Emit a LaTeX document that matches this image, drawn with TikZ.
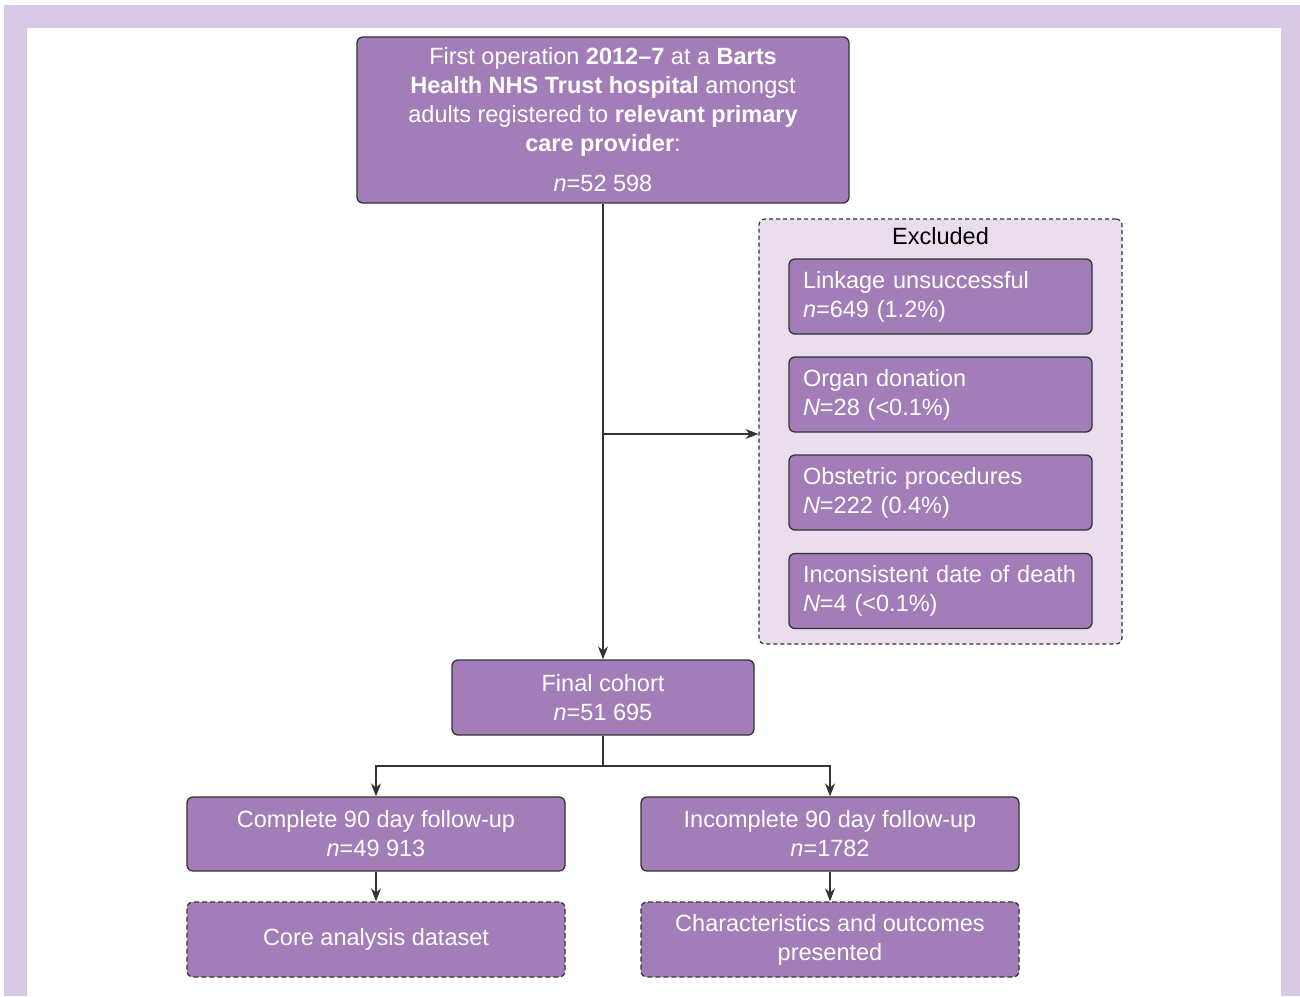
\documentclass[tikz,border=0pt]{standalone}
\usepackage{fontspec}
\setmainfont{Liberation Sans}
\usepackage{tikz}
\usetikzlibrary{positioning, calc, arrows.meta}

\definecolor{frame}{RGB}{216,202,228}
\definecolor{boxfill}{RGB}{163,125,184}
\definecolor{exclfill}{RGB}{234,221,237}
\definecolor{edge}{RGB}{51,51,51}

\begin{document}
\begin{tikzpicture}[x=1pt, y=-1pt]
  \tikzstyle{stage}=[rectangle, rounded corners=6pt, draw=edge, fill=boxfill, line width=1.3pt, text=white,
    font=\fontsize{23.5}{29}\selectfont, align=center, inner sep=0pt]
  \tikzstyle{reason}=[stage, align=left, minimum width=303pt, minimum height=75pt, text width=275pt, inner xsep=14pt]
  \tikzstyle{outcome}=[stage, dashed, dash pattern=on 5pt off 3pt]
  \tikzstyle{arrow}=[draw=edge, line width=1.2pt, -{Stealth[length=13pt, width=10pt]}]
  \tikzstyle{link}=[draw=edge, line width=1.2pt]

  % page frame
  \useasboundingbox (0,0) rectangle (1300,996);
  \fill[white] (0,0) rectangle (1300,996);
  \fill[frame] (4,5) rectangle (1300,996);
  \fill[white] (27,28) rectangle (1281,996);

  % cohort selection
  \node (first) at (603,120) [stage, minimum width=492pt, minimum height=166pt] {First operation \textbf{2012--7} at a \textbf{Barts}\\
    \textbf{Health NHS Trust hospital} amongst\\
    adults registered to \textbf{relevant primary}\\
    \textbf{care provider}:\\[11pt]
    \textit{n}=52 598};

  % exclusions
  \node (excl) at (940.5,431.5) [rectangle, rounded corners=6pt, draw=edge, fill=exclfill, line width=1.2pt,
    dashed, dash pattern=on 4pt off 3pt, minimum width=363pt, minimum height=425pt] {};
  \node (excltitle) at (940.5,236) [font=\fontsize{23.5}{29}\selectfont, text=black] {Excluded};
  \node (linkage) at (940.5,296.5) [reason] {Linkage unsuccessful\\\textit{n}=649 (1.2\%)};
  \node (organ) at (940.5,394.5) [reason] {Organ donation\\\textit{N}=28 (<0.1\%)};
  \node (obstetric) at (940.5,492.5) [reason] {Obstetric procedures\\\textit{N}=222 (0.4\%)};
  \node (death) at (940.5,591) [reason] {Inconsistent date of death\\\textit{N}=4 (<0.1\%)};

  \node (final) at (603,697.5) [stage, minimum width=302pt, minimum height=75pt] {Final cohort\\\textit{n}=51 695};

  % follow-up
  \node (complete) at (376,834) [stage, minimum width=378pt, minimum height=74pt] {Complete 90 day follow-up\\\textit{n}=49 913};
  \node (incomplete) at (830,834) [stage, minimum width=378pt, minimum height=74pt] {Incomplete 90 day follow-up\\\textit{n}=1782};
  \node (core) at (376,939.5) [outcome, minimum width=378pt, minimum height=75pt] {Core analysis dataset};
  \node (charac) at (830,939.5) [outcome, minimum width=378pt, minimum height=75pt] {Characteristics and outcomes\\presented};

  % connections
  \coordinate (branch) at (603,434);
  \coordinate (fork) at (603,766);
  \draw[arrow] (first.south) -- (final.north);
  \draw[arrow] (branch) -- (branch -| excl.west);
  \draw[link] (final.south) -- (fork);
  \draw[arrow] (fork) -| (complete.north);
  \draw[arrow] (fork) -| (incomplete.north);
  \draw[arrow] (complete.south) -- (core.north);
  \draw[arrow] (incomplete.south) -- (charac.north);
\end{tikzpicture}
\end{document}
